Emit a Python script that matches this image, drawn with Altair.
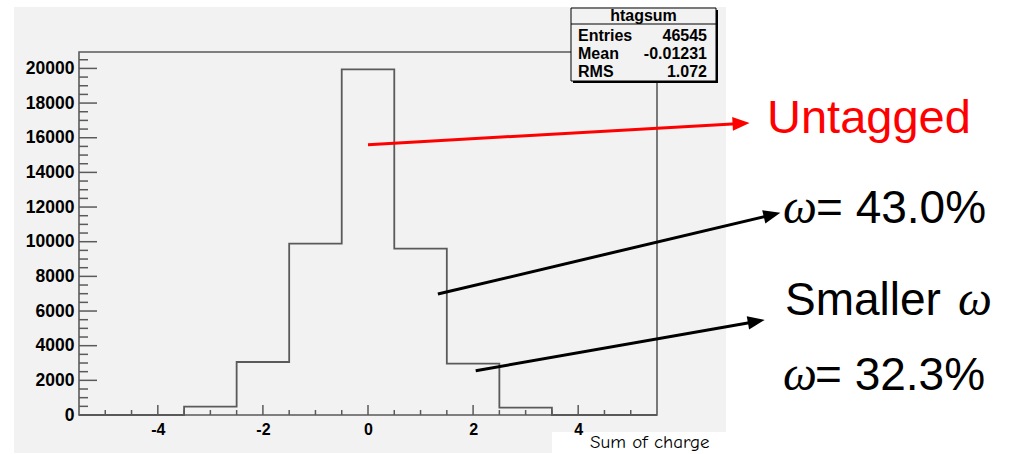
import altair as alt
import pandas as pd

# ---- histogram "htagsum": unit-width bins centred on integers ----
bin_centers = [-5, -4, -3, -2, -1, 0, 1, 2, 3, 4, 5]
counts = [0, 0, 479, 3058, 9884, 19950, 9596, 2960, 421, 0, 0]

x_range = [-5.5, 5.5]
y_max = 20947  # 1.05 x tallest bin, as ROOT draws it

# ---- axis ticks ----
x_major = [-4, -2, 0, 2, 4]
x_minor = [-5, -4.5, -3.5, -3, -2.5, -1.5, -1, -0.5, 0.5, 1, 1.5, 2.5, 3, 3.5, 4.5, 5]
y_major = [0, 2000, 4000, 6000, 8000, 10000, 12000, 14000, 16000, 18000, 20000]
y_minor = [500, 1000, 1500, 2500, 3000, 3500, 4500, 5000, 5500, 6500, 7000, 7500,
           8500, 9000, 9500, 10500, 11000, 11500, 12500, 13000, 13500, 14500, 15000,
           15500, 16500, 17000, 17500, 18500, 19000, 19500, 20500]

# ---- statistics box ----
stats_title = "htagsum"
stats_labels = ["Entries", "Mean", "RMS"]
stats_values = ["46545", "-0.01231", "1.072"]

# ---- annotation arrows (data units: tail -> head centre) ----
arrow_x0 = [0.0, 1.33, 2.05]
arrow_y0 = [15600, 6980, 2556]
arrow_x1 = [7.10, 7.69, 7.39]
arrow_y1 = [16826, 11552, 5401]
arrow_angle = [356.8, 346.7, 350.0]
arrow_color = ["#ff0000", "#000000", "#000000"]

W, H = 578, 363
SANS = "Liberation Sans, Arial, Helvetica, sans-serif"
SERIF = "Liberation Serif, Times New Roman, serif"
GRAY = "#f2f2f2"
LINE = "#5a5a5a"

# plain integer labels with an ASCII hyphen for negatives
plain_label = "'' + datum.value"

xs = alt.Scale(domain=x_range, nice=False, zero=False)
ys = alt.Scale(domain=[0, y_max], nice=False, zero=False)
xaxis = alt.Axis(values=x_major, ticks=False, domain=False, grid=False, title=None,
                 labelFont=SANS, labelFontWeight="bold", labelFontSize=16,
                 labelPadding=6, labelColor="#000000", zindex=1, tickSize=0,
                 labelExpr=plain_label)
yaxis = alt.Axis(values=y_major, ticks=False, domain=False, grid=False, title=None,
                 labelFont=SANS, labelFontWeight="bold", labelFontSize=17.5,
                 labelPadding=5, labelColor="#000000", zindex=1, tickSize=0,
                 labelOverlap=False, labelExpr=plain_label)


def X(field):
    return alt.X(field, type="quantitative", scale=xs, axis=xaxis)


def Y(field):
    return alt.Y(field, type="quantitative", scale=ys, axis=yaxis)


one = pd.DataFrame({"k": [0]})

# step outline built from bin edges
edges = pd.DataFrame({
    "x": [c - 0.5 for c in bin_centers] + [x_range[1]],
    "n": counts + [counts[-1]],
})

panel = alt.Chart(one).mark_rect(color=GRAY).encode(
    x=alt.value(-65), x2=alt.value(647), y=alt.value(-45), y2=alt.value(401))
patch = alt.Chart(one).mark_rect(color="#ffffff").encode(
    x=alt.value(473), x2=alt.value(931), y=alt.value(380), y2=alt.value(402))

hist = alt.Chart(edges).mark_line(
    interpolate="step-after", color=LINE, strokeWidth=1.8
).encode(x=X("x"), y=Y("n"))

frame = alt.Chart(one).mark_rect(filled=False, stroke=LINE, strokeWidth=1.6).encode(
    x=alt.value(0), x2=alt.value(W), y=alt.value(0), y2=alt.value(H))

yt_major = alt.Chart(pd.DataFrame({"v": y_major})).mark_rule(
    color=LINE, strokeWidth=1.5).encode(y=Y("v"), x=alt.value(0), x2=alt.value(18))
yt_minor = alt.Chart(pd.DataFrame({"v": y_minor})).mark_rule(
    color=LINE, strokeWidth=1.5).encode(y=Y("v"), x=alt.value(0), x2=alt.value(9))
xt_major = alt.Chart(pd.DataFrame({"v": x_major})).mark_rule(
    color=LINE, strokeWidth=1.5).encode(x=X("v"), y=alt.value(H), y2=alt.value(H - 10))
xt_minor = alt.Chart(pd.DataFrame({"v": x_minor})).mark_rule(
    color=LINE, strokeWidth=1.5).encode(x=X("v"), y=alt.value(H), y2=alt.value(H - 5))

# statistics box (shadow, box, divider, text)
bx0, bx1, by0, by1 = 492, 637, -44, 29
stats = [
    alt.Chart(one).mark_rect(color="#000000").encode(
        x=alt.value(bx0 + 2), x2=alt.value(bx1 + 2), y=alt.value(by0 + 2), y2=alt.value(by1 + 2)),
    alt.Chart(one).mark_rect(fill=GRAY, stroke="#000000", strokeWidth=1).encode(
        x=alt.value(bx0), x2=alt.value(bx1), y=alt.value(by0), y2=alt.value(by1)),
    alt.Chart(one).mark_rule(color="#000000", strokeWidth=1).encode(
        x=alt.value(bx0), x2=alt.value(bx1), y=alt.value(-28)),
    alt.Chart(one).mark_text(text=stats_title, font=SANS, fontWeight="bold", fontSize=16,
                             align="center", baseline="middle").encode(
        x=alt.value((bx0 + bx1) / 2), y=alt.value(-36)),
]
for i, (lab, val) in enumerate(zip(stats_labels, stats_values)):
    ry = -16 + 18 * i
    stats.append(alt.Chart(one).mark_text(text=lab, font=SANS, fontWeight="bold", fontSize=16,
                                          align="left", baseline="middle").encode(
        x=alt.value(499), y=alt.value(ry)))
    stats.append(alt.Chart(one).mark_text(text=val, font=SANS, fontWeight="bold", fontSize=16,
                                          align="right", baseline="middle").encode(
        x=alt.value(628), y=alt.value(ry)))

# arrows
arrows_df = pd.DataFrame({
    "x0": arrow_x0, "y0": arrow_y0, "x1": arrow_x1, "y1": arrow_y1,
    "ang": arrow_angle, "col": arrow_color,
})
arrow_lines = alt.Chart(arrows_df).mark_rule(strokeWidth=3, strokeCap="butt").encode(
    x=X("x0"), y=Y("y0"), x2="x1", y2="y1",
    color=alt.Color("col:N", scale=None))
arrow_heads = alt.Chart(arrows_df).mark_point(
    shape="M1,0L-1,-0.8L-1,0.8Z", filled=True, opacity=1, size=290
).encode(x=X("x1"), y=Y("y1"), angle=alt.Angle("ang:Q", scale=None),
         color=alt.Color("col:N", scale=None))


def label(text, x, y, size=46, color="#000000", font=SANS, style="normal"):
    return alt.Chart(one).mark_text(text=text, font=font, fontSize=size, fontStyle=style,
                                    color=color, align="left", baseline="alphabetic").encode(
        x=alt.value(x), y=alt.value(y))


texts = [
    label("Untagged", 688, 81, size=47, color="#ff0000"),
    label("\u03c9", 704, 171, size=48, font=SERIF, style="italic"),
    label("= 43.0%", 737, 171),
    label("Smaller ", 706, 263),
    label("\u03c9", 879, 263, size=48, font=SERIF, style="italic"),
    label("\u03c9", 704, 338, size=48, font=SERIF, style="italic"),
    label("= 32.3%", 736, 338),
    label("Sum of charge", 511, 396, size=19,
          font="Comic Sans MS, Comic Neue, DejaVu Sans, sans-serif"),
]

chart = alt.layer(
    panel, patch, hist, frame, yt_major, yt_minor, xt_major, xt_minor,
    *stats, arrow_lines, arrow_heads, *texts
).properties(
    width=W, height=H,
    autosize=alt.AutoSizeParams(type="none"),
    padding={"left": 79, "top": 52, "right": 353, "bottom": 39},
    background="#ffffff",
).configure_view(strokeWidth=0)

chart.save("out.html", embed_options={"renderer": "svg", "actions": False})
